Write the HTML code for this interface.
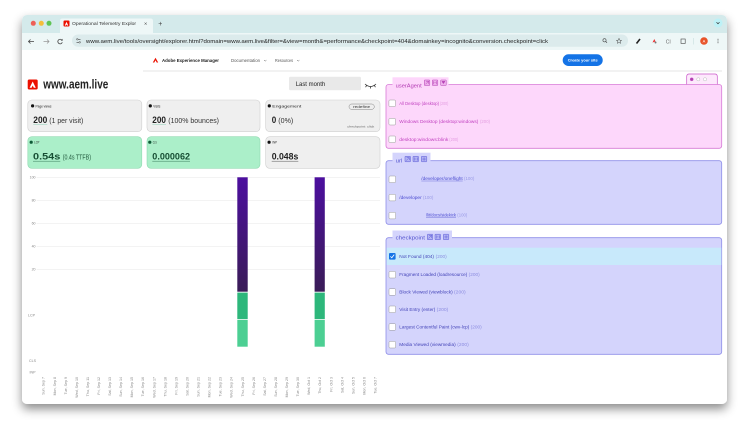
<!DOCTYPE html>
<html><head><meta charset="utf-8"><style>html,body{margin:0;padding:0;background:#fff;width:750px;height:434px;overflow:hidden}svg{display:block}</style></head>
<body>
<svg width="750" height="434" viewBox="0 0 750 434" xmlns="http://www.w3.org/2000/svg" font-family="Liberation Sans, sans-serif">
<defs>
<filter id="sh" x="-10%" y="-10%" width="120%" height="130%"><feDropShadow dx="0" dy="5" stdDeviation="5" flood-color="#000" flood-opacity="0.45"/></filter>
<clipPath id="wc"><rect x="22" y="15" width="705" height="389" rx="5"/></clipPath>
<linearGradient id="pg" x1="0" y1="0" x2="0" y2="1"><stop offset="0" stop-color="#4c0f9f"/><stop offset="1" stop-color="#3a1c57"/></linearGradient>
</defs>
<rect x="22" y="15" width="705" height="389" rx="5" fill="#fff" filter="url(#sh)"/>
<g clip-path="url(#wc)">
<!-- tab strip -->
<rect x="22" y="15" width="705" height="18" fill="#d4eaeb"/>
<circle cx="33.3" cy="23.3" r="2.5" fill="#ee5f57"/>
<circle cx="41.3" cy="23.3" r="2.5" fill="#f5bd3a"/>
<circle cx="49" cy="23.3" r="2.5" fill="#5fc454"/>
<path d="M60,33 V21 Q60,18.5 62.5,18.5 H150.5 Q153,18.5 153,21 V33 Z" fill="#eef7f7"/>
<rect x="63.5" y="20.5" width="6" height="6" rx="1" fill="#eb1000"/>
<path d="M66.5,21.8 L64.8,25.5 H66 L66.5,24.4 L67.1,25.5 H68.2 Z" fill="#fff"/>
<text x="72" y="25.2" font-size="4.8" fill="#333" textLength="64" lengthAdjust="spacingAndGlyphs">Operational Telemetry Explor</text>
<text x="144" y="25.6" font-size="5.5" fill="#444">×</text>
<text x="158.2" y="26" font-size="7" fill="#444">+</text>
<circle cx="718" cy="23" r="4.5" fill="#bdf1f6"/>
<path d="M716.5,22.3 L718,23.8 L719.5,22.3" stroke="#333" stroke-width="0.7" fill="none"/>
<!-- toolbar -->
<rect x="22" y="33" width="705" height="17" fill="#eef7f7"/>
<path d="M34,41.5 H28.5 M30.5,39.5 L28.5,41.5 L30.5,43.5" stroke="#444" stroke-width="0.8" fill="none"/>
<path d="M43.5,41.5 H49 M47,39.5 L49,41.5 L47,43.5" stroke="#999" stroke-width="0.8" fill="none"/>
<path d="M62,40.2 A2.3,2.3 0 1 0 62.3,42.3" stroke="#444" stroke-width="0.8" fill="none"/>
<path d="M62.6,38.8 L62.6,40.8 L60.8,40.6 Z" fill="#444"/>
<rect x="72" y="34.5" width="556" height="12.2" rx="6" fill="#dcebec"/>
<path d="M76.5,39.3 H80.5 M76.5,42.3 H80.5" stroke="#444" stroke-width="0.6"/>
<circle cx="77.3" cy="39.3" r="0.8" fill="#dcebec" stroke="#444" stroke-width="0.5"/>
<circle cx="79.7" cy="42.3" r="0.8" fill="#dcebec" stroke="#444" stroke-width="0.5"/>
<text x="86" y="42.8" font-size="5.4" fill="#222" textLength="462" lengthAdjust="spacingAndGlyphs">www.aem.live/tools/oversight/explorer.html?domain=www.aem.live&amp;filter=&amp;view=month&amp;=performance&amp;checkpoint=404&amp;domainkey=incognito&amp;conversion.checkpoint=click</text>
<circle cx="604.5" cy="40.3" r="1.6" fill="none" stroke="#444" stroke-width="0.6"/>
<path d="M605.7,41.5 L607,42.8" stroke="#444" stroke-width="0.7"/>
<path d="M619,38.3 L619.7,40.2 L621.6,40.3 L620.1,41.5 L620.6,43.4 L619,42.3 L617.4,43.4 L617.9,41.5 L616.4,40.3 L618.3,40.2 Z" fill="none" stroke="#444" stroke-width="0.5"/>
<path d="M636.5,43.5 L640,39" stroke="#222" stroke-width="1.6"/>
<path d="M652.5,42.5 L654.3,39 L655.5,41.5 Z" fill="#e33"/><circle cx="655.5" cy="42.5" r="1" fill="#777"/>
<text x="665.8" y="43.3" font-size="5" fill="#666">CI</text>
<rect x="681" y="39" width="4.2" height="4.4" fill="none" stroke="#444" stroke-width="0.6"/>
<path d="M693.5,38 V44.5" stroke="#c8dede" stroke-width="0.6"/>
<circle cx="704" cy="41" r="3.8" fill="#e8532a"/>
<text x="704" y="42.7" font-size="4" fill="#fff" text-anchor="middle">A</text>
<circle cx="718" cy="39.2" r="0.5" fill="#444"/><circle cx="718" cy="41" r="0.5" fill="#444"/><circle cx="718" cy="42.8" r="0.5" fill="#444"/>
<!-- nav -->
<path d="M155.5,57.8 L152.8,62.5 H154.3 L155.5,60.3 L156.7,62.5 H158.2 Z" fill="#eb1000"/>
<text x="162" y="62" font-size="4.5" font-weight="bold" fill="#222" textLength="57" lengthAdjust="spacingAndGlyphs">Adobe Experience Manager</text>
<text x="231" y="62" font-size="4.2" fill="#555" textLength="29" lengthAdjust="spacingAndGlyphs">Documentation</text>
<path d="M264,60 L265.2,61.2 L266.4,60" stroke="#555" stroke-width="0.5" fill="none"/>
<text x="275" y="62" font-size="4.2" fill="#555" textLength="18" lengthAdjust="spacingAndGlyphs">Resources</text>
<path d="M297,60 L298.2,61.2 L299.4,60" stroke="#555" stroke-width="0.5" fill="none"/>
<rect x="562.7" y="54.3" width="40" height="11.7" rx="5.8" fill="#1473e6"/>
<text x="582.7" y="61.6" font-size="4" font-weight="bold" fill="#fff" text-anchor="middle" textLength="30" lengthAdjust="spacingAndGlyphs">Create your site</text>
<path d="M143,71 H722" stroke="#e6e6e6" stroke-width="1"/>
<!-- title -->
<rect x="27.7" y="79.5" width="10" height="10" rx="1.5" fill="#eb1000"/>
<path d="M32.7,81.5 L29.6,87.8 H31.6 L32.7,85.5 L33.8,87.8 H35.8 Z" fill="#fff"/>
<text x="43.3" y="88.7" font-size="12.5" font-weight="bold" fill="#222" textLength="65" lengthAdjust="spacingAndGlyphs">www.aem.live</text>
<rect x="289" y="76.7" width="72" height="13.6" rx="1.5" fill="#e9e9e9"/>
<text x="295.7" y="86" font-size="6" fill="#222" textLength="29.5" lengthAdjust="spacingAndGlyphs">Last month</text>
<path d="M365,84 Q370.5,89 376,84 M366.5,85.6 L365.6,87.2 M370.5,86.8 V88.5 M374.5,85.6 L375.4,87.2" stroke="#333" stroke-width="0.8" fill="none"/>
<!-- cards -->
<rect x="27.8" y="100" width="114" height="31.6" rx="4" fill="#efefef" stroke="#cfcfcf" stroke-width="0.6"/>
<rect x="147" y="100" width="113" height="31.6" rx="4" fill="#efefef" stroke="#cfcfcf" stroke-width="0.6"/>
<rect x="265.7" y="100" width="114.3" height="31.6" rx="4" fill="#efefef" stroke="#cfcfcf" stroke-width="0.6"/>
<rect x="27.8" y="136.7" width="114" height="31.6" rx="4" fill="#abefc9" stroke="#90d9b1" stroke-width="0.6"/>
<rect x="147" y="136.7" width="113" height="31.6" rx="4" fill="#abefc9" stroke="#90d9b1" stroke-width="0.6"/>
<rect x="265.7" y="136.7" width="114.3" height="31.6" rx="4" fill="#efefef" stroke="#cfcfcf" stroke-width="0.6"/>
<g font-size="3.8" fill="#222">
<circle cx="32.6" cy="105.9" r="1.6" fill="#111"/><text x="35.5" y="107.3" textLength="16" lengthAdjust="spacingAndGlyphs">Page views</text>
<circle cx="150.3" cy="105.9" r="1.6" fill="#111"/><text x="153.3" y="107.3" textLength="7" lengthAdjust="spacingAndGlyphs">Visits</text>
<circle cx="269.3" cy="105.9" r="1.6" fill="#111"/><text x="272.3" y="107.3" textLength="29" lengthAdjust="spacingAndGlyphs">Engagement</text>
<circle cx="31.2" cy="142.2" r="1.6" fill="#0d5a36"/><text x="34.3" y="143.6" textLength="5" lengthAdjust="spacingAndGlyphs">LCP</text>
<circle cx="149.8" cy="142.2" r="1.6" fill="#0d5a36"/><text x="152.7" y="143.6" textLength="4" lengthAdjust="spacingAndGlyphs">CLS</text>
<circle cx="269.1" cy="142.2" r="1.6" fill="#111"/><text x="272.3" y="143.6" textLength="4.7" lengthAdjust="spacingAndGlyphs">INP</text>
</g>
<rect x="349" y="104" width="25.3" height="5.4" rx="2.7" fill="#eeeeee" stroke="#666" stroke-width="0.4"/>
<text x="361.6" y="107.8" font-size="3.4" fill="#333" text-anchor="middle" textLength="17" lengthAdjust="spacingAndGlyphs">redefine</text>
<text x="347.3" y="127.3" font-size="3.1" fill="#666" textLength="27" lengthAdjust="spacingAndGlyphs">checkpoint: click</text>
<g fill="#222">
<text x="33.3" y="123" font-size="9.5" font-weight="bold" textLength="14" lengthAdjust="spacingAndGlyphs">200</text>
<text x="49.3" y="123" font-size="7.2" fill="#333" textLength="34" lengthAdjust="spacingAndGlyphs">(1 per visit)</text>
<text x="152.3" y="123" font-size="9.5" font-weight="bold" textLength="13.7" lengthAdjust="spacingAndGlyphs">200</text>
<text x="168.3" y="123" font-size="7.2" fill="#333" textLength="50.7" lengthAdjust="spacingAndGlyphs">(100% bounces)</text>
<text x="271.7" y="123" font-size="9.5" font-weight="bold" textLength="4.5" lengthAdjust="spacingAndGlyphs">0</text>
<text x="278.3" y="123" font-size="7.2" fill="#333" textLength="15" lengthAdjust="spacingAndGlyphs">(0%)</text>
<text x="33" y="159.7" font-size="9.5" font-weight="bold" fill="#164e33" textLength="27.3" lengthAdjust="spacingAndGlyphs">0.54s</text>
<text x="62.7" y="159.7" font-size="7.2" fill="#245c40" textLength="28.3" lengthAdjust="spacingAndGlyphs">(0.4s TTFB)</text>
<text x="152.3" y="159.7" font-size="9.5" font-weight="bold" fill="#164e33" textLength="37.7" lengthAdjust="spacingAndGlyphs">0.000062</text>
<text x="271.7" y="159.7" font-size="9.5" font-weight="bold" textLength="26.6" lengthAdjust="spacingAndGlyphs">0.048s</text>
</g>
<g stroke-width="0.5">
<path d="M33.3,124.6 H47.3" stroke="#8fcfb5"/>
<path d="M152.3,124.6 H166" stroke="#8fcfb5"/>
<path d="M33,161.2 H60.3" stroke="#3b7d5c"/>
<path d="M152.3,161.2 H190" stroke="#3b7d5c"/>
<path d="M271.7,161.2 H298.3" stroke="#555"/>
</g>
<!-- chart -->
<g stroke="#ececec" stroke-width="0.6">
<path d="M36.7,177.3 H380 M36.7,200.3 H380 M36.7,223.3 H380 M36.7,246.3 H380 M36.7,269.3 H380"/>
</g>
<g font-size="3.5" fill="#888" text-anchor="end">
<text x="35.5" y="178.5">100</text>
<text x="35.5" y="201.5">80</text>
<text x="35.5" y="224.5">60</text>
<text x="35.5" y="247.5">40</text>
<text x="35.5" y="270.5">20</text>
</g>
<g font-size="3.6" fill="#888">
<text x="28" y="316.3">LCP</text>
<text x="29" y="362">CLS</text>
<text x="29.5" y="373.5">INP</text>
</g>
<rect x="237.3" y="177.3" width="10.4" height="114.4" fill="url(#pg)"/>
<rect x="237.3" y="292.6" width="10.4" height="26.6" fill="#2db77b"/>
<rect x="237.3" y="320" width="10.4" height="26.7" fill="#4ccf93"/>
<rect x="314.6" y="177.3" width="10.2" height="114.4" fill="url(#pg)"/>
<rect x="314.6" y="292.6" width="10.2" height="26.6" fill="#2db77b"/>
<rect x="314.6" y="320" width="10.2" height="26.7" fill="#4ccf93"/>
<g font-size="3.6" fill="#888" text-anchor="end">
<text transform="translate(44.7,377) rotate(-90)">Sun, Sep 7</text>
<text transform="translate(55.8,377) rotate(-90)">Mon, Sep 8</text>
<text transform="translate(66.8,377) rotate(-90)">Tue, Sep 9</text>
<text transform="translate(77.9,377) rotate(-90)">Wed, Sep 10</text>
<text transform="translate(88.9,377) rotate(-90)">Thu, Sep 11</text>
<text transform="translate(100,377) rotate(-90)">Fri, Sep 12</text>
<text transform="translate(111.1,377) rotate(-90)">Sat, Sep 13</text>
<text transform="translate(122.1,377) rotate(-90)">Sun, Sep 14</text>
<text transform="translate(133.2,377) rotate(-90)">Mon, Sep 15</text>
<text transform="translate(144.2,377) rotate(-90)">Tue, Sep 16</text>
<text transform="translate(155.3,377) rotate(-90)">Wed, Sep 17</text>
<text transform="translate(166.4,377) rotate(-90)">Thu, Sep 18</text>
<text transform="translate(177.4,377) rotate(-90)">Fri, Sep 19</text>
<text transform="translate(188.5,377) rotate(-90)">Sat, Sep 20</text>
<text transform="translate(199.5,377) rotate(-90)">Sun, Sep 21</text>
<text transform="translate(210.6,377) rotate(-90)">Mon, Sep 22</text>
<text transform="translate(221.7,377) rotate(-90)">Tue, Sep 23</text>
<text transform="translate(232.7,377) rotate(-90)">Wed, Sep 24</text>
<text transform="translate(243.8,377) rotate(-90)">Thu, Sep 25</text>
<text transform="translate(254.8,377) rotate(-90)">Fri, Sep 26</text>
<text transform="translate(265.9,377) rotate(-90)">Sat, Sep 27</text>
<text transform="translate(277,377) rotate(-90)">Sun, Sep 28</text>
<text transform="translate(288,377) rotate(-90)">Mon, Sep 29</text>
<text transform="translate(299.1,377) rotate(-90)">Tue, Sep 30</text>
<text transform="translate(310.1,377) rotate(-90)">Wed, Oct 1</text>
<text transform="translate(321.2,377) rotate(-90)">Thu, Oct 2</text>
<text transform="translate(332.3,377) rotate(-90)">Fri, Oct 3</text>
<text transform="translate(343.3,377) rotate(-90)">Sat, Oct 4</text>
<text transform="translate(354.4,377) rotate(-90)">Sun, Oct 5</text>
<text transform="translate(365.4,377) rotate(-90)">Mon, Oct 6</text>
<text transform="translate(376.5,377) rotate(-90)">Tue, Oct 7</text>
</g>
<!-- right panel: small tab -->
<path d="M686.7,84.5 V76.5 Q686.7,74 689.2,74 H714.8 Q717.3,74 717.3,76.5 V84.5" fill="#fde9fc" stroke="#c955c9" stroke-width="0.7"/>
<circle cx="691.7" cy="79.3" r="1.6" fill="#b040b0" stroke="#c955c9" stroke-width="0.4"/>
<circle cx="698.3" cy="79.3" r="1.6" fill="#fff" stroke="#aaa" stroke-width="0.4"/>
<circle cx="705" cy="79.3" r="1.6" fill="#fff" stroke="#aaa" stroke-width="0.4"/>
<!-- userAgent -->
<rect x="386" y="84.5" width="335.7" height="63.8" rx="2.5" fill="#fdd7fb" stroke="#d77ad6" stroke-width="0.8"/>
<rect x="392.5" y="77.3" width="56" height="9.8" fill="#fdd6fb"/>
<text x="395.7" y="87.4" font-size="5.6" fill="#b23ab3" textLength="26" lengthAdjust="spacingAndGlyphs">userAgent</text>
<g stroke="#b540b5" stroke-width="0.5" fill="#eeb0ec">
<rect x="424.3" y="80" width="5.5" height="5.5" rx="0.5"/><rect x="432.3" y="80" width="5.5" height="5.5" rx="0.5"/><rect x="440.7" y="80" width="5.5" height="5.5" rx="0.5"/>
<path d="M425.5,84.3 L428.6,81.2 M426,81.2 H428.6 V83.8" fill="none"/>
<path d="M433.5,81.2 V84.3 M436.6,81.2 V84.3 M434.5,82.7 H435.6" fill="none"/>
<path d="M441.9,81.4 L443.4,83.6 L445,81.4 Z" fill="#b540b5"/>
</g>
<g stroke="#999" stroke-width="0.5" fill="#fff">
<rect x="388.9" y="100" width="6.6" height="6.6" rx="1"/>
<rect x="388.9" y="118.4" width="6.6" height="6.6" rx="1"/>
<rect x="388.9" y="136" width="6.6" height="6.6" rx="1"/>
</g>
<g font-size="4.3" fill="#c03fbf">
<text x="399.3" y="104.8" textLength="39.7" lengthAdjust="spacingAndGlyphs">All Desktop (desktop)</text>
<text x="440" y="104.8" fill="#e39ce0" textLength="8.3" lengthAdjust="spacingAndGlyphs">(200)</text>
<text x="399.3" y="123.2" textLength="79" lengthAdjust="spacingAndGlyphs">Windows Desktop (desktop:windows)</text>
<text x="480" y="123.2" fill="#e39ce0" textLength="10" lengthAdjust="spacingAndGlyphs">(200)</text>
<text x="399.3" y="140.8" textLength="49" lengthAdjust="spacingAndGlyphs">desktop:windows:blink</text>
<text x="449.3" y="140.8" fill="#e39ce0" textLength="9" lengthAdjust="spacingAndGlyphs">(200)</text>
</g>
<!-- url -->
<rect x="386" y="160.7" width="335.7" height="63.6" rx="2.5" fill="#d4d4fc" stroke="#8e8ee8" stroke-width="0.8"/>
<rect x="392.5" y="152.7" width="38" height="10" fill="#d4d4fc"/>
<text x="395.7" y="162.6" font-size="5.6" fill="#5454cf" textLength="6.6" lengthAdjust="spacingAndGlyphs">url</text>
<g stroke="#5a5ad6" stroke-width="0.5" fill="#b4b4f4">
<rect x="405" y="156.3" width="5.5" height="5.5" rx="0.5"/><rect x="413" y="156.3" width="5.5" height="5.5" rx="0.5"/><rect x="421.3" y="156.3" width="5.5" height="5.5" rx="0.5"/>
<path d="M406.2,160.6 L409.3,157.5 M406.7,157.5 H409.3 V160.1" fill="none"/>
<path d="M414.2,157.5 V160.6 M417.3,157.5 V160.6 M415.2,159 H416.3" fill="none"/>
<path d="M424.05,157.3 V160.8 M422.3,159.05 H425.8" fill="none"/>
</g>
<g stroke="#999" stroke-width="0.5" fill="#fff">
<rect x="389" y="176" width="6.6" height="6.6" rx="1"/>
<rect x="389" y="194.3" width="6.6" height="6.6" rx="1"/>
<rect x="389" y="212.3" width="6.6" height="6.6" rx="1"/>
</g>
<g font-size="4.3" fill="#4b4bd0">
<text x="421.3" y="180.2" textLength="41.4" lengthAdjust="spacingAndGlyphs">/developer/oneflight</text>
<text x="464" y="180.2" fill="#9a9ae6" textLength="10.3" lengthAdjust="spacingAndGlyphs">(100)</text>
<text x="399.3" y="199.2" textLength="22.4" lengthAdjust="spacingAndGlyphs">/developer</text>
<text x="423" y="199.2" fill="#9a9ae6" textLength="10.3" lengthAdjust="spacingAndGlyphs">(100)</text>
<text x="426" y="216.5" textLength="30" lengthAdjust="spacingAndGlyphs">/lit/docs/sidekick</text>
<text x="457.3" y="216.5" fill="#9a9ae6" textLength="10" lengthAdjust="spacingAndGlyphs">(100)</text>
</g>
<path d="M421.3,181 H462.7 M426,217.3 H456" stroke="#4b4bd0" stroke-width="0.35"/>
<!-- checkpoint -->
<rect x="386" y="237.7" width="335.7" height="116.6" rx="2.5" fill="#d4d4fc" stroke="#8e8ee8" stroke-width="0.8"/>
<rect x="392.5" y="230.5" width="59.5" height="9.8" fill="#d4d4fc"/>
<text x="395.7" y="239.6" font-size="5.6" fill="#5454cf" textLength="29.3" lengthAdjust="spacingAndGlyphs">checkpoint</text>
<g stroke="#5a5ad6" stroke-width="0.5" fill="#b4b4f4">
<rect x="427.3" y="234.2" width="5.5" height="5.5" rx="0.5"/><rect x="435" y="234.2" width="5.5" height="5.5" rx="0.5"/><rect x="443.3" y="234.2" width="5.5" height="5.5" rx="0.5"/>
<path d="M428.5,238.5 L431.6,235.4 M429,235.4 H431.6 V238" fill="none"/>
<path d="M436.2,235.4 V238.5 M439.3,235.4 V238.5 M437.2,236.9 H438.3" fill="none"/>
<path d="M446.05,235.2 V238.7 M444.3,236.95 H447.8" fill="none"/>
</g>
<rect x="386.5" y="247.7" width="334.8" height="17.3" fill="#c8e9fb"/>
<rect x="389" y="253" width="6.6" height="6.6" rx="1" fill="#1473e6"/>
<path d="M390.4,256.4 L391.8,257.8 L394.2,254.6" stroke="#fff" stroke-width="0.8" fill="none"/>
<g stroke="#999" stroke-width="0.5" fill="#fff">
<rect x="389" y="271.4" width="6.6" height="6.6" rx="1"/>
<rect x="389" y="288.7" width="6.6" height="6.6" rx="1"/>
<rect x="389" y="306" width="6.6" height="6.6" rx="1"/>
<rect x="389" y="323.7" width="6.6" height="6.6" rx="1"/>
<rect x="389" y="341.4" width="6.6" height="6.6" rx="1"/>
</g>
<g font-size="4.3" fill="#4343b8">
<text x="399.3" y="257.8" textLength="34.7" lengthAdjust="spacingAndGlyphs">Not Found (404)</text>
<text x="435.7" y="257.8" fill="#8c8ce0" textLength="11" lengthAdjust="spacingAndGlyphs">(200)</text>
<text x="399.3" y="276.2" textLength="68" lengthAdjust="spacingAndGlyphs">Fragment Loaded (loadresource)</text>
<text x="468.7" y="276.2" fill="#8c8ce0" textLength="11" lengthAdjust="spacingAndGlyphs">(200)</text>
<text x="399.3" y="293.5" textLength="53.4" lengthAdjust="spacingAndGlyphs">Block Viewed (viewblock)</text>
<text x="454" y="293.5" fill="#8c8ce0" textLength="11.7" lengthAdjust="spacingAndGlyphs">(200)</text>
<text x="399.3" y="310.8" textLength="36" lengthAdjust="spacingAndGlyphs">Visit Entry (enter)</text>
<text x="436.7" y="310.8" fill="#8c8ce0" textLength="11.6" lengthAdjust="spacingAndGlyphs">(200)</text>
<text x="399.3" y="328.5" textLength="70" lengthAdjust="spacingAndGlyphs">Largest Contentful Paint (cwv-lcp)</text>
<text x="470.7" y="328.5" fill="#8c8ce0" textLength="11" lengthAdjust="spacingAndGlyphs">(200)</text>
<text x="399.3" y="346.2" textLength="56.4" lengthAdjust="spacingAndGlyphs">Media Viewed (viewmedia)</text>
<text x="457.3" y="346.2" fill="#8c8ce0" textLength="11.4" lengthAdjust="spacingAndGlyphs">(200)</text>
</g>
</g>
</svg>
</body></html>
